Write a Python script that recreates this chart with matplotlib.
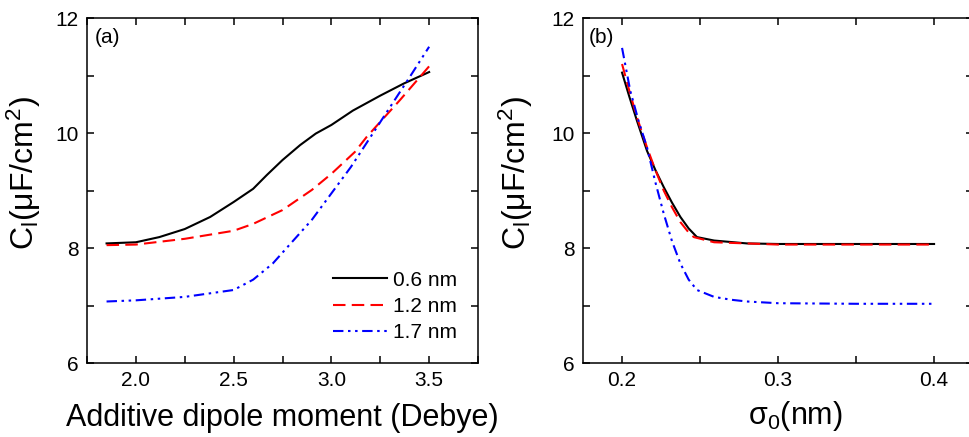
import matplotlib
matplotlib.use("Agg")
import matplotlib.pyplot as plt
from matplotlib.ticker import MultipleLocator, FormatStrFormatter
import numpy as np

plt.rcParams['font.family'] = ['Liberation Sans', 'DejaVu Sans']
plt.rcParams['mathtext.default'] = 'regular'

# (a) capacitance vs additive dipole moment
dip_06 = [1.85, 2.0, 2.12, 2.25, 2.38, 2.5, 2.6, 2.67, 2.75, 2.84, 2.92, 3.0, 3.11, 3.25, 3.37, 3.5]
cap_06 = [8.08, 8.10, 8.19, 8.33, 8.54, 8.80, 9.03, 9.27, 9.53, 9.79, 9.99, 10.14, 10.39, 10.65, 10.86, 11.06]
dip_12 = [1.85, 2.0, 2.25, 2.5, 2.6, 2.75, 2.9, 3.0, 3.12, 3.18, 3.35, 3.5]
cap_12 = [8.05, 8.06, 8.16, 8.30, 8.42, 8.66, 9.01, 9.29, 9.67, 9.93, 10.57, 11.16]
dip_17 = [1.85, 2.0, 2.25, 2.5, 2.6, 2.7, 2.8, 2.9, 3.0, 3.1, 3.2, 3.3, 3.4, 3.5]
cap_17 = [7.07, 7.09, 7.15, 7.27, 7.45, 7.73, 8.11, 8.49, 8.95, 9.41, 9.93, 10.45, 10.97, 11.50]

# (b) capacitance vs sigma_0
sig_06 = [0.2, 0.2048, 0.2096, 0.216, 0.2213, 0.2267, 0.232, 0.2374, 0.2427, 0.248, 0.259, 0.28, 0.3, 0.35, 0.4]
c_06 = [11.05, 10.62, 10.21, 9.69, 9.36, 9.06, 8.79, 8.54, 8.34, 8.19, 8.13, 8.08, 8.07, 8.07, 8.07]
sig_12 = [0.2, 0.2048, 0.2096, 0.216, 0.2213, 0.2267, 0.232, 0.2374, 0.2427, 0.246, 0.259, 0.3, 0.35, 0.4]
c_12 = [11.2, 10.72, 10.27, 9.75, 9.36, 9.0, 8.71, 8.45, 8.27, 8.19, 8.10, 8.06, 8.06, 8.06]
sig_17 = [0.2, 0.2053, 0.2107, 0.216, 0.2213, 0.2267, 0.232, 0.2374, 0.2427, 0.248, 0.259, 0.27, 0.28, 0.3, 0.35, 0.4]
c_17 = [11.48, 10.73, 10.20, 9.75, 9.15, 8.60, 8.12, 7.73, 7.45, 7.27, 7.15, 7.10, 7.07, 7.04, 7.03, 7.03]

labels = ['0.6 nm', '1.2 nm', '1.7 nm']
ylab = r'C$_{l}$($\mu$F/cm$^{2}$)'

fig = plt.figure(figsize=(9.69, 4.37), dpi=100)
ax1 = fig.add_axes([0.0898, 0.1693, 0.4035, 0.7895])
ax2 = fig.add_axes([0.6017, 0.1693, 0.4025, 0.7895])

styles = [dict(color='black', ls='-'),
          dict(color='red', ls=(0, (6, 3))),
          dict(color='blue', ls=(0, (5, 2.2, 1.2, 2.2, 1.2, 2.2)))]

for (x, y), lab, st in zip([(dip_06, cap_06), (dip_12, cap_12), (dip_17, cap_17)], labels, styles):
    ax1.plot(x, y, lw=1.5, label=lab, **st)
for (x, y), st in zip([(sig_06, c_06), (sig_12, c_12), (sig_17, c_17)], styles):
    ax2.plot(x, y, lw=1.5, **st)

ax1.set_xlim(1.75, 3.75)
ax1.xaxis.set_major_locator(MultipleLocator(0.5))
ax1.xaxis.set_minor_locator(MultipleLocator(0.25))
ax2.set_xlim(0.175, 0.425)
ax2.xaxis.set_major_locator(MultipleLocator(0.1))
ax2.xaxis.set_minor_locator(MultipleLocator(0.05))

for ax in (ax1, ax2):
    ax.set_ylim(6, 12)
    ax.yaxis.set_major_locator(MultipleLocator(2))
    ax.yaxis.set_minor_locator(MultipleLocator(1))
    ax.tick_params(which='both', direction='in', top=True, right=True,
                   labelsize=15, width=1.1, length=5, pad=6)
    for s in ax.spines.values():
        s.set_linewidth(1.1)
    ax.xaxis.set_major_formatter(FormatStrFormatter('%.1f'))
    ax.set_ylabel(ylab, fontsize=23)

ax1.yaxis.set_label_coords(-0.113, 0.55)
ax2.yaxis.set_label_coords(-0.123, 0.55)

ax1.set_xlabel('Additive dipole moment (Debye)', fontsize=22, labelpad=9)
ax2.set_xlabel(r'$\sigma_0$(nm)', fontsize=22, labelpad=9)
ax2.xaxis.set_label_coords(0.544, -0.105)
ax2.xaxis.label.set_va('top')

ax1.text(0.02, 0.97, '(a)', transform=ax1.transAxes, fontsize=15, va='top', ha='left')
ax2.text(0.015, 0.97, '(b)', transform=ax2.transAxes, fontsize=15, va='top', ha='left')

ax1.legend(loc='lower right', frameon=False, fontsize=15, handlelength=2.6,
           handletextpad=0.3, labelspacing=0.35, borderaxespad=0.6)

fig.savefig('out.png', dpi=100)
